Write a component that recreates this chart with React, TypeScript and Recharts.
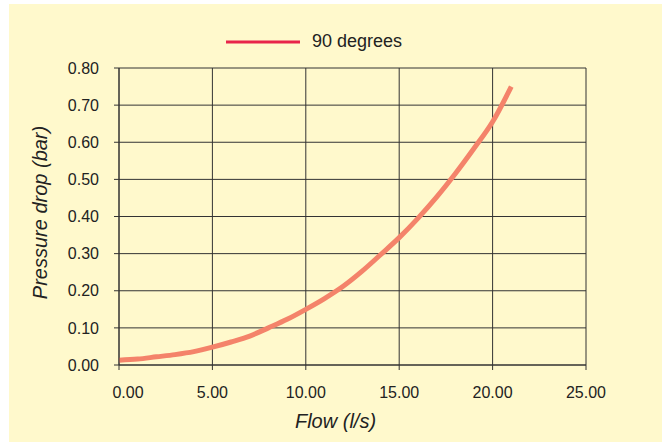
import { LineChart, Line, XAxis, YAxis, CartesianGrid } from 'recharts';

const flow = [0, 1, 2, 3, 4, 5, 6, 7, 8, 9, 10, 11, 12, 13, 14, 15, 16, 17, 18, 19, 20, 21];
const pressure = [
  0.013, 0.016, 0.022, 0.028, 0.036, 0.048, 0.062, 0.078, 0.1, 0.123, 0.15, 0.179, 0.212, 0.252,
  0.297, 0.343, 0.395, 0.452, 0.515, 0.583, 0.655, 0.75,
];
const xTicks = [0, 5, 10, 15, 20, 25];
const yTicks = [0, 0.1, 0.2, 0.3, 0.4, 0.5, 0.6, 0.7, 0.8];
const seriesName = '90 degrees';

const data = flow.map((f, i) => ({ flow: f, dp: pressure[i] }));

const FONT = '"Liberation Sans", Arial, sans-serif';

const XTick = (props: any) => {
  const { x, y, payload, index } = props;
  return (
    <text
      x={x + (index === 0 ? 9 : 0)}
      y={y}
      dy="0.71em"
      textAnchor="middle"
      fill="#222"
      fontSize={16}
      fontFamily={FONT}
    >
      {Number(payload.value).toFixed(2)}
    </text>
  );
};

export default function App() {
  return (
    <div
      style={{
        position: 'absolute',
        left: 9,
        top: 4,
        width: 653,
        height: 438,
        background: '#FFF9CC',
        fontFamily: FONT,
      }}
    >
      <div style={{ position: 'absolute', left: 217, top: 27, display: 'flex', alignItems: 'center' }}>
        <svg width={74} height={6}>
          <line x1={0} y1={3} x2={74} y2={3} stroke="#E8254A" strokeWidth={3} />
        </svg>
        <span style={{ marginLeft: 12, fontSize: 18, color: '#222' }}>{seriesName}</span>
      </div>
      <LineChart width={653} height={438} data={data} margin={{ top: 64, right: 76, bottom: 0, left: 0 }}>
        <CartesianGrid stroke="#333" strokeWidth={1} />
        <XAxis
          dataKey="flow"
          type="number"
          domain={[0, 25]}
          ticks={xTicks}
          height={77}
          tickSize={5}
          tickMargin={17}
          stroke="#333"
          tick={<XTick />}
          label={{ value: 'Flow (l/s)', position: 'center', dx: -17, dy: 17, fontSize: 20, fontStyle: 'italic', fill: '#222', fontFamily: FONT }}
        />
        <YAxis
          type="number"
          domain={[0, 0.8]}
          ticks={yTicks}
          width={110}
          tickSize={5}
          tickMargin={15}
          stroke="#333"
          tickFormatter={(v: number) => v.toFixed(2)}
          tick={{ fill: '#222', fontSize: 16, fontFamily: FONT }}
          label={{ value: 'Pressure drop (bar)', angle: -90, position: 'center', dx: -24, dy: -4, fontSize: 20, fontStyle: 'italic', fill: '#222', fontFamily: FONT }}
        />
        <Line
          dataKey="dp"
          type="monotone"
          stroke="#F4836A"
          strokeWidth={5}
          dot={false}
          isAnimationActive={false}
        />
      </LineChart>
    </div>
  );
}
